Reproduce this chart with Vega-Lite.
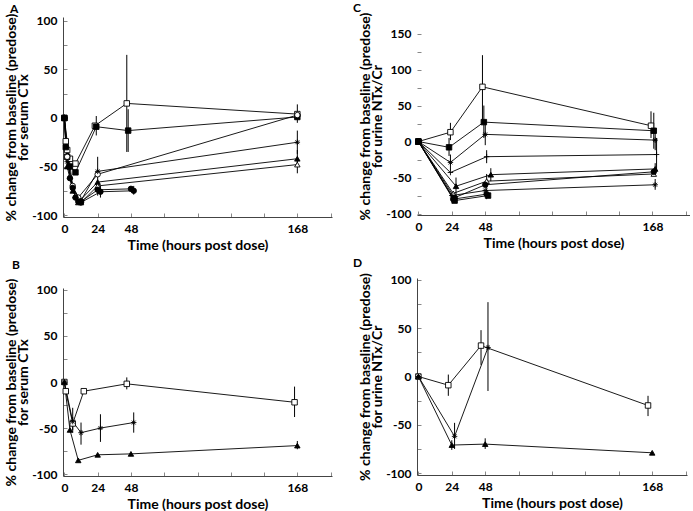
{
  "$schema": "https://vega.github.io/schema/vega-lite/v6.json",
  "padding": {"left": 4, "top": 2, "right": 0, "bottom": 0},
  "spacing": 21,
  "config": {
    "view": {"stroke": null},
    "font": "Lato",
    "axis": {"grid": false, "domainColor": "#444", "tickColor": "#888", "tickSize": -4, "labelPadding": 10,
      "labelFont": "Lato", "labelFontWeight": "bold", "labelFontSize": 12, "labelColor": "black",
      "titleFont": "Lato", "titleFontWeight": "bold", "titleColor": "black"},
    "axisX": {"titleFontSize": 14, "titlePadding": 4},
    "axisY": {"titleFontSize": 14, "titlePadding": 1, "titleLineHeight": 12},
    "title": {"font": "Lato", "fontSize": 12, "fontWeight": "bold", "anchor": "start", "frame": "group", "baseline": "alphabetic"},
    "point": {"filled": true, "stroke": "black", "strokeWidth": 0.9, "opacity": 1, "size": 30},
    "line": {"color": "black", "strokeWidth": 0.9},
    "rule": {"color": "black", "strokeWidth": 1}
  },
  "hconcat": [
    {"spacing": 7, "vconcat": [
      {
        "width": 269, "height": 200,
        "title": {"text": "A", "dx": -53, "dy": 5, "offset": 2},
        "data": {"values": [
          {"s":"A1","t":0,"v":0},{"s":"A1","t":1,"v":-24},{"s":"A1","t":2,"v":-33},{"s":"A1","t":4,"v":-42},{"s":"A1","t":8,"v":-47},{"s":"A1","t":22,"v":-8},{"s":"A1","t":45,"v":15,"lo":-35,"hi":65},{"s":"A1","t":168,"v":4,"lo":-5,"hi":14},
          {"s":"A2","t":0,"v":0},{"s":"A2","t":1,"v":-30},{"s":"A2","t":2,"v":-40},{"s":"A2","t":4,"v":-50},{"s":"A2","t":8,"v":-56},{"s":"A2","t":23,"v":-9,"lo":-18,"hi":2},{"s":"A2","t":46,"v":-13,"lo":-35,"hi":9},{"s":"A2","t":168,"v":1},
          {"s":"A3","t":0,"v":0},{"s":"A3","t":2,"v":-40},{"s":"A3","t":6,"v":-70},{"s":"A3","t":10,"v":-82},{"s":"A3","t":24,"v":-58},{"s":"A3","t":168,"v":3},
          {"s":"A4","t":0,"v":0},{"s":"A4","t":2,"v":-45},{"s":"A4","t":6,"v":-72},{"s":"A4","t":12,"v":-85},{"s":"A4","t":24,"v":-55,"lo":-70,"hi":-40},{"s":"A4","t":168,"v":-25,"lo":-37,"hi":-13},
          {"s":"A5","t":0,"v":0},{"s":"A5","t":2,"v":-50},{"s":"A5","t":6,"v":-75},{"s":"A5","t":10,"v":-87},{"s":"A5","t":24,"v":-66},{"s":"A5","t":168,"v":-42,"lo":-50,"hi":-33},
          {"s":"A6","t":0,"v":0},{"s":"A6","t":4,"v":-60},{"s":"A6","t":8,"v":-80},{"s":"A6","t":12,"v":-87},{"s":"A6","t":24,"v":-70},{"s":"A6","t":168,"v":-48,"lo":-57,"hi":-40},
          {"s":"A7","t":0,"v":0},{"s":"A7","t":4,"v":-62},{"s":"A7","t":8,"v":-82},{"s":"A7","t":12,"v":-86},{"s":"A7","t":24,"v":-74,"lo":-80,"hi":-67},{"s":"A7","t":48,"v":-73},
          {"s":"A8","t":0,"v":0},{"s":"A8","t":6,"v":-72},{"s":"A8","t":10,"v":-86},{"s":"A8","t":12,"v":-87},{"s":"A8","t":26,"v":-76,"lo":-82,"hi":-70},{"s":"A8","t":50,"v":-75,"lo":-79,"hi":-70}
        ]},
        "encoding": {
          "x": {"field": "t", "type": "quantitative", "scale": {"domain": [-1, 193], "nice": false},
            "axis": {"values": [0,24,48,72,96,120,144,168,192], "labelExpr": "indexof([0,24,48,168], datum.value) >= 0 ? datum.label : ''", "title": "Time (hours post dose)"}},
          "y": {"field": "v", "type": "quantitative", "scale": {"domain": [-102, 104], "nice": false},
            "axis": {"values": [-100,-75,-50,-25,0,25,50,75,100], "labelExpr": "datum.value % 50 === 0 ? replace(datum.label, '\u2212', '-') : ''", "title": ["% change from baseline (predose)", "for serum CTx"]}}
        },
        "layer": [
          {"data": {"values": [{}]}, "mark": {"type": "rule", "strokeDash": [3, 2]}, "encoding": {"x": null, "y": {"datum": 0}}},
          {"transform": [{"filter": "datum.lo != null"}], "mark": "rule", "encoding": {"y": {"field": "lo", "type": "quantitative"}, "y2": {"field": "hi"}}},
          {"mark": "line", "encoding": {"detail": {"field": "s"}}},
          {"mark": "point",
            "encoding": {
              "shape": {"field": "s", "legend": null, "scale": {"domain": ["A1","A2","A3","A4","A5","A6","A7","A8","B1","B2","B3","C1","C2","C3","C4","C5","C6","C7","C8","C9","C10","D1","D2","D3"], "range": ["square","square","circle","M-1,0L1,0M0,-1L0,1M-0.7,-0.7L0.7,0.7M-0.7,0.7L0.7,-0.7","triangle-up","triangle-up","circle","circle","square","M-1,0L1,0M0,-1L0,1M-0.7,-0.7L0.7,0.7M-0.7,0.7L0.7,-0.7","triangle-up","square","square","M-1,0L1,0M0,-1L0,1M-0.7,-0.7L0.7,0.7M-0.7,0.7L0.7,-0.7","M-1,0L1,0M0,-1L0,1","triangle-up","triangle-up","circle","M-1,0L1,0M0,-1L0,1M-0.7,-0.7L0.7,0.7M-0.7,0.7L0.7,-0.7","circle","square","square","M-1,0L1,0M0,-1L0,1M-0.7,-0.7L0.7,0.7M-0.7,0.7L0.7,-0.7","triangle-up"]}},
              "fill": {"field": "s", "legend": null, "scale": {"domain": ["A1","A2","A3","A4","A5","A6","A7","A8","B1","B2","B3","C1","C2","C3","C4","C5","C6","C7","C8","C9","C10","D1","D2","D3"], "range": ["white","black","white","black","black","white","black","black","white","black","black","white","black","black","black","black","white","black","black","black","black","white","black","black"]}}
            }}
        ]
      },
      {
        "width": 269, "height": 188,
        "title": {"text": "B", "dx": -51, "offset": 6},
        "data": {"values": [
          {"s":"B1","t":0,"v":0},{"s":"B1","t":1,"v":-10},{"s":"B1","t":6,"v":-45,"lo":-52,"hi":-38},{"s":"B1","t":14,"v":-10},{"s":"B1","t":45,"v":-2,"lo":-8,"hi":5},{"s":"B1","t":166,"v":-22,"lo":-38,"hi":-5},
          {"s":"B2","t":0,"v":0},{"s":"B2","t":6,"v":-43,"lo":-55,"hi":-28},{"s":"B2","t":12,"v":-55,"lo":-68,"hi":-44},{"s":"B2","t":26,"v":-50,"lo":-65,"hi":-35},{"s":"B2","t":50,"v":-44,"lo":-55,"hi":-33},
          {"s":"B3","t":0,"v":0},{"s":"B3","t":4,"v":-52},{"s":"B3","t":10,"v":-85},{"s":"B3","t":24,"v":-79},{"s":"B3","t":48,"v":-78},{"s":"B3","t":168,"v":-69,"lo":-73,"hi":-64}
        ]},
        "encoding": {
          "x": {"field": "t", "type": "quantitative", "scale": {"domain": [-1, 193], "nice": false},
            "axis": {"values": [0,24,48,72,96,120,144,168,192], "labelExpr": "indexof([0,24,48,168], datum.value) >= 0 ? datum.label : ''", "title": "Time (hours post dose)"}},
          "y": {"field": "v", "type": "quantitative", "scale": {"domain": [-102, 102], "nice": false},
            "axis": {"values": [-100,-75,-50,-25,0,25,50,75,100], "labelExpr": "datum.value % 50 === 0 ? replace(datum.label, '\u2212', '-') : ''", "title": ["% change from baseline (predose)", "for serum CTx"]}}
        },
        "layer": [
          {"data": {"values": [{}]}, "mark": {"type": "rule", "strokeDash": [3, 2]}, "encoding": {"x": null, "y": {"datum": 0}}},
          {"transform": [{"filter": "datum.lo != null"}], "mark": "rule", "encoding": {"y": {"field": "lo", "type": "quantitative"}, "y2": {"field": "hi"}}},
          {"mark": "line", "encoding": {"detail": {"field": "s"}}},
          {"mark": "point",
            "encoding": {
              "shape": {"field": "s", "legend": null, "scale": {"domain": ["A1","A2","A3","A4","A5","A6","A7","A8","B1","B2","B3","C1","C2","C3","C4","C5","C6","C7","C8","C9","C10","D1","D2","D3"], "range": ["square","square","circle","M-1,0L1,0M0,-1L0,1M-0.7,-0.7L0.7,0.7M-0.7,0.7L0.7,-0.7","triangle-up","triangle-up","circle","circle","square","M-1,0L1,0M0,-1L0,1M-0.7,-0.7L0.7,0.7M-0.7,0.7L0.7,-0.7","triangle-up","square","square","M-1,0L1,0M0,-1L0,1M-0.7,-0.7L0.7,0.7M-0.7,0.7L0.7,-0.7","M-1,0L1,0M0,-1L0,1","triangle-up","triangle-up","circle","M-1,0L1,0M0,-1L0,1M-0.7,-0.7L0.7,0.7M-0.7,0.7L0.7,-0.7","circle","square","square","M-1,0L1,0M0,-1L0,1M-0.7,-0.7L0.7,0.7M-0.7,0.7L0.7,-0.7","triangle-up"]}},
              "fill": {"field": "s", "legend": null, "scale": {"domain": ["A1","A2","A3","A4","A5","A6","A7","A8","B1","B2","B3","C1","C2","C3","C4","C5","C6","C7","C8","C9","C10","D1","D2","D3"], "range": ["white","black","white","black","black","white","black","black","white","black","black","white","black","black","black","black","white","black","black","black","black","white","black","black"]}}
            }}
        ]
      }
    ]},
    {"spacing": 7, "vconcat": [
      {
        "width": 273, "height": 198,
        "title": {"text": "C", "dx": -64, "dy": 5, "offset": 2},
        "data": {"values": [
          {"s":"C1","t":0,"v":0},{"s":"C1","t":23,"v":13,"lo":2,"hi":26},{"s":"C1","t":46,"v":76,"lo":30,"hi":120},{"s":"C1","t":167,"v":22,"lo":5,"hi":42},
          {"s":"C2","t":0,"v":0},{"s":"C2","t":22,"v":-8,"lo":-20,"hi":5},{"s":"C2","t":47,"v":27,"lo":5,"hi":50},{"s":"C2","t":169,"v":15,"lo":-10,"hi":40},
          {"s":"C3","t":0,"v":0},{"s":"C3","t":23,"v":-29,"lo":-40,"hi":-18},{"s":"C3","t":48,"v":10,"lo":-5,"hi":25},{"s":"C3","t":170,"v":2,"lo":-12,"hi":15},
          {"s":"C4","t":0,"v":0},{"s":"C4","t":23,"v":-43},{"s":"C4","t":49,"v":-21,"lo":-30,"hi":-12},{"s":"C4","t":171,"v":-18,"lo":-40,"hi":5},
          {"s":"C5","t":0,"v":0},{"s":"C5","t":27,"v":-62,"lo":-75,"hi":-50},{"s":"C5","t":52,"v":-46,"lo":-55,"hi":-37},{"s":"C5","t":170,"v":-38,"lo":-47,"hi":-30},
          {"s":"C6","t":0,"v":0},{"s":"C6","t":25,"v":-72},{"s":"C6","t":49,"v":-55,"lo":-65,"hi":-45},{"s":"C6","t":169,"v":-45},
          {"s":"C7","t":0,"v":0},{"s":"C7","t":26,"v":-78},{"s":"C7","t":48,"v":-60},{"s":"C7","t":169,"v":-42},
          {"s":"C8","t":0,"v":0},{"s":"C8","t":24,"v":-75},{"s":"C8","t":48,"v":-68},{"s":"C8","t":170,"v":-60,"lo":-67,"hi":-52},
          {"s":"C9","t":0,"v":0},{"s":"C9","t":25,"v":-80},{"s":"C9","t":49,"v":-73,"lo":-80,"hi":-65},
          {"s":"C10","t":0,"v":0},{"s":"C10","t":26,"v":-82},{"s":"C10","t":50,"v":-75}
        ]},
        "encoding": {
          "x": {"field": "t", "type": "quantitative", "scale": {"domain": [-1, 195], "nice": false},
            "axis": {"values": [0,24,48,72,96,120,144,168,192], "labelExpr": "indexof([0,24,48,168], datum.value) >= 0 ? datum.label : ''", "title": "Time (hours post dose)"}},
          "y": {"field": "v", "type": "quantitative", "scale": {"domain": [-102, 173], "nice": false},
            "axis": {"domain": false, "values": [-100,-75,-50,-25,0,25,50,75,100,125,150], "labelExpr": "datum.value % 50 === 0 ? replace(datum.label, '\u2212', '-') : ''", "title": ["% change from baseline (predose)", "for urine NTx/Cr"]}}
        },
        "layer": [
          {"data": {"values": [{}]}, "mark": {"type": "rule", "strokeDash": [3, 2]}, "encoding": {"x": null, "y": {"datum": 0}}},
          {"data": {"values": [{}]}, "mark": {"type": "rule", "color": "#444"}, "encoding": {"x": {"datum": -1}, "y": {"datum": -102}, "y2": {"datum": 152}}},
          {"transform": [{"filter": "datum.lo != null"}], "mark": "rule", "encoding": {"y": {"field": "lo", "type": "quantitative"}, "y2": {"field": "hi"}}},
          {"mark": "line", "encoding": {"detail": {"field": "s"}}},
          {"mark": "point",
            "encoding": {
              "shape": {"field": "s", "legend": null, "scale": {"domain": ["A1","A2","A3","A4","A5","A6","A7","A8","B1","B2","B3","C1","C2","C3","C4","C5","C6","C7","C8","C9","C10","D1","D2","D3"], "range": ["square","square","circle","M-1,0L1,0M0,-1L0,1M-0.7,-0.7L0.7,0.7M-0.7,0.7L0.7,-0.7","triangle-up","triangle-up","circle","circle","square","M-1,0L1,0M0,-1L0,1M-0.7,-0.7L0.7,0.7M-0.7,0.7L0.7,-0.7","triangle-up","square","square","M-1,0L1,0M0,-1L0,1M-0.7,-0.7L0.7,0.7M-0.7,0.7L0.7,-0.7","M-1,0L1,0M0,-1L0,1","triangle-up","triangle-up","circle","M-1,0L1,0M0,-1L0,1M-0.7,-0.7L0.7,0.7M-0.7,0.7L0.7,-0.7","circle","square","square","M-1,0L1,0M0,-1L0,1M-0.7,-0.7L0.7,0.7M-0.7,0.7L0.7,-0.7","triangle-up"]}},
              "fill": {"field": "s", "legend": null, "scale": {"domain": ["A1","A2","A3","A4","A5","A6","A7","A8","B1","B2","B3","C1","C2","C3","C4","C5","C6","C7","C8","C9","C10","D1","D2","D3"], "range": ["white","black","white","black","black","white","black","black","white","black","black","white","black","black","black","black","white","black","black","black","black","white","black","black"]}}
            }}
        ]
      },
      {
        "width": 270, "height": 197,
        "title": {"text": "D", "dx": -64, "offset": 2.5},
        "data": {"values": [
          {"s":"D1","t":0,"v":0},{"s":"D1","t":21.5,"v":-9,"lo":-20,"hi":2},{"s":"D1","t":45,"v":32,"lo":12,"hi":48},{"s":"D1","t":165,"v":-30,"lo":-41,"hi":-20},
          {"s":"D2","t":0,"v":0},{"s":"D2","t":26,"v":-62,"lo":-75,"hi":-48},{"s":"D2","t":50,"v":30,"lo":-15,"hi":77},
          {"s":"D3","t":0,"v":0},{"s":"D3","t":24,"v":-71,"lo":-76,"hi":-66},{"s":"D3","t":48,"v":-70,"lo":-75,"hi":-64},{"s":"D3","t":168,"v":-79}
        ]},
        "encoding": {
          "x": {"field": "t", "type": "quantitative", "scale": {"domain": [-1, 193], "nice": false},
            "axis": {"values": [0,24,48,72,96,120,144,168,192], "labelExpr": "indexof([0,24,48,168], datum.value) >= 0 ? datum.label : ''", "title": "Time (hours post dose)"}},
          "y": {"field": "v", "type": "quantitative", "scale": {"domain": [-102, 102], "nice": false},
            "axis": {"values": [-100,-75,-50,-25,0,25,50,75,100], "labelExpr": "datum.value % 50 === 0 ? replace(datum.label, '\u2212', '-') : ''", "title": ["% change from baseline (predose)", "for urine NTx/Cr"]}}
        },
        "layer": [
          {"data": {"values": [{}]}, "mark": {"type": "rule", "strokeDash": [3, 2]}, "encoding": {"x": null, "y": {"datum": 0}}},
          {"transform": [{"filter": "datum.lo != null"}], "mark": "rule", "encoding": {"y": {"field": "lo", "type": "quantitative"}, "y2": {"field": "hi"}}},
          {"mark": "line", "encoding": {"detail": {"field": "s"}}},
          {"mark": "point",
            "encoding": {
              "shape": {"field": "s", "legend": null, "scale": {"domain": ["A1","A2","A3","A4","A5","A6","A7","A8","B1","B2","B3","C1","C2","C3","C4","C5","C6","C7","C8","C9","C10","D1","D2","D3"], "range": ["square","square","circle","M-1,0L1,0M0,-1L0,1M-0.7,-0.7L0.7,0.7M-0.7,0.7L0.7,-0.7","triangle-up","triangle-up","circle","circle","square","M-1,0L1,0M0,-1L0,1M-0.7,-0.7L0.7,0.7M-0.7,0.7L0.7,-0.7","triangle-up","square","square","M-1,0L1,0M0,-1L0,1M-0.7,-0.7L0.7,0.7M-0.7,0.7L0.7,-0.7","M-1,0L1,0M0,-1L0,1","triangle-up","triangle-up","circle","M-1,0L1,0M0,-1L0,1M-0.7,-0.7L0.7,0.7M-0.7,0.7L0.7,-0.7","circle","square","square","M-1,0L1,0M0,-1L0,1M-0.7,-0.7L0.7,0.7M-0.7,0.7L0.7,-0.7","triangle-up"]}},
              "fill": {"field": "s", "legend": null, "scale": {"domain": ["A1","A2","A3","A4","A5","A6","A7","A8","B1","B2","B3","C1","C2","C3","C4","C5","C6","C7","C8","C9","C10","D1","D2","D3"], "range": ["white","black","white","black","black","white","black","black","white","black","black","white","black","black","black","black","white","black","black","black","black","white","black","black"]}}
            }}
        ]
      }
    ]}
  ]
}
